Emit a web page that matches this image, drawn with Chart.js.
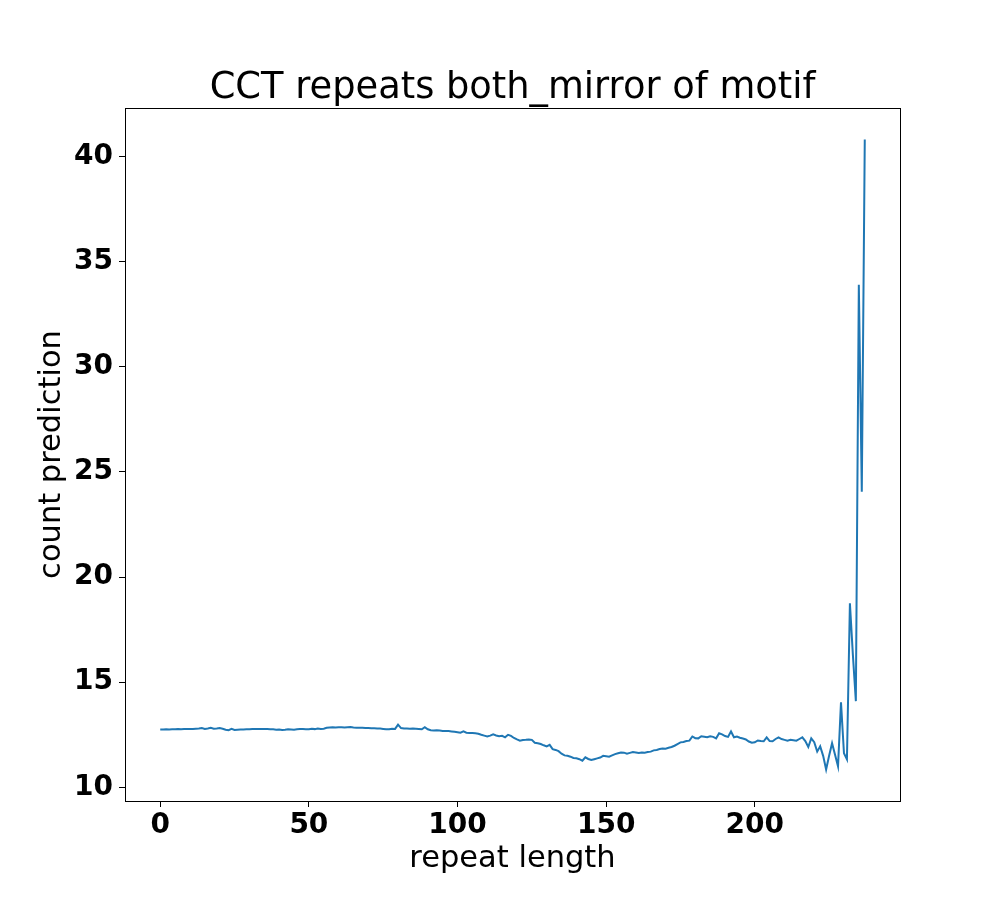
<!DOCTYPE html>
<html>
<head>
<meta charset="utf-8">
<script src="https://cdn.jsdelivr.net/npm/chart.js@4"></script>
<style>
  html, body { margin: 0; padding: 0; background: #fff; }
  #wrap { width: 1000px; height: 900px; }
</style>
</head>
<body>
<div id="wrap"><canvas id="c" width="1000" height="900"></canvas></div>
<script>
const titleText = "CCT repeats both_mirror of motif";
const xLabel = "repeat length";
const yLabel = "count prediction";
const xTicks = [0, 50, 100, 150, 200];
const yTicks = [10, 15, 20, 25, 30, 35, 40];
const countPrediction = [
  12.75, 12.75, 12.76, 12.75, 12.76, 12.76, 12.77, 12.76, 12.77, 12.77,
  12.77, 12.78, 12.79, 12.80, 12.82, 12.78, 12.80, 12.83, 12.79, 12.80,
  12.82, 12.79, 12.74, 12.72, 12.78, 12.73, 12.74, 12.75, 12.75, 12.76,
  12.76, 12.77, 12.77, 12.77, 12.78, 12.78, 12.77, 12.76, 12.76, 12.74,
  12.75, 12.73, 12.74, 12.76, 12.75, 12.74, 12.76, 12.77, 12.77, 12.76,
  12.76, 12.79, 12.77, 12.80, 12.78, 12.79, 12.83, 12.85, 12.86, 12.85,
  12.86, 12.86, 12.85, 12.86, 12.87, 12.85, 12.84, 12.83, 12.83, 12.82,
  12.82, 12.81, 12.81, 12.80, 12.80, 12.78, 12.76, 12.76, 12.79, 12.78,
  12.98, 12.82, 12.80, 12.80, 12.79, 12.80, 12.79, 12.78, 12.76, 12.86,
  12.76, 12.72, 12.71, 12.72, 12.70, 12.68, 12.68, 12.68, 12.66, 12.64,
  12.62, 12.60, 12.66, 12.60, 12.58, 12.58, 12.57, 12.55, 12.50, 12.46,
  12.42, 12.46, 12.52, 12.47, 12.43, 12.45, 12.38, 12.50, 12.45, 12.35,
  12.28, 12.22, 12.25, 12.26, 12.28, 12.26, 12.12, 12.10, 12.06, 12.00,
  11.95, 12.02, 11.82, 11.78, 11.72, 11.60, 11.52, 11.50, 11.46, 11.40,
  11.38, 11.34, 11.27, 11.43, 11.35, 11.30, 11.34, 11.38, 11.42, 11.50,
  11.48, 11.46, 11.52, 11.58, 11.62, 11.66, 11.65, 11.60, 11.64, 11.68,
  11.66, 11.64, 11.66, 11.65, 11.68, 11.70, 11.76, 11.78, 11.82, 11.85,
  11.84, 11.88, 11.92, 11.98, 12.06, 12.14, 12.16, 12.20, 12.22, 12.42,
  12.34, 12.33, 12.43, 12.41, 12.38, 12.43, 12.40, 12.33, 12.57, 12.52,
  12.44, 12.40, 12.66, 12.38, 12.42, 12.36, 12.32, 12.28, 12.18, 12.12,
  12.14, 12.23, 12.20, 12.19, 12.38, 12.20, 12.19, 12.30, 12.38, 12.30,
  12.26, 12.22, 12.26, 12.24, 12.22, 12.30, 12.38, 12.20, 11.92, 12.33,
  12.15, 11.70, 11.95, 11.50, 10.85, 11.50, 12.10, 11.55, 11.00, 14.05,
  11.62, 11.33, 18.75, 16.30, 14.10, 33.90, 24.05, 40.80
];
const repeatLength = countPrediction.map((_, i) => i);

// matplotlib-style 5% margins
const xMinD = Math.min(...repeatLength), xMaxD = Math.max(...repeatLength);
const yMinD = Math.min(...countPrediction), yMaxD = Math.max(...countPrediction);
const xm = (xMaxD - xMinD) * 0.05, ym = (yMaxD - yMinD) * 0.05;

const points = repeatLength.map((x, i) => ({ x: x, y: countPrediction[i] }));

const boxPlugin = {
  id: 'box',
  afterLayout(chart) {
    // centre the title over the plot area, like matplotlib
    if (chart.titleBlock) {
      chart.titleBlock.left = chart.chartArea.left;
      chart.titleBlock.right = chart.chartArea.right;
      chart.titleBlock.width = chart.chartArea.right - chart.chartArea.left;
    }
  },
  afterDraw(chart) {
    const a = chart.chartArea, ctx = chart.ctx;
    ctx.save();
    ctx.strokeStyle = '#000';
    ctx.lineWidth = 1;
    ctx.strokeRect(Math.round(a.left) + 0.5, Math.round(a.top) + 0.5,
                   Math.round(a.right - a.left), Math.round(a.bottom - a.top));
    ctx.restore();
  }
};

Chart.defaults.font.family = "'DejaVu Sans', sans-serif";

new Chart(document.getElementById('c'), {
  type: 'line',
  data: {
    datasets: [{
      data: points,
      borderColor: '#1f77b4',
      borderWidth: 2,
      pointRadius: 0,
      tension: 0,
      fill: false
    }]
  },
  options: {
    responsive: false,
    animation: false,
    devicePixelRatio: 1,
    layout: { padding: { top: 0, right: 100, bottom: 0, left: 0 } },
    plugins: {
      legend: { display: false },
      tooltip: { enabled: false },
      title: {
        display: true,
        text: titleText,
        color: '#000',
        font: { size: 36.8, weight: 'normal', lineHeight: 1.0 },
        padding: { top: 70, bottom: 1.2 }
      }
    },
    scales: {
      x: {
        type: 'linear',
        min: xMinD - xm,
        max: xMaxD + xm,
        afterBuildTicks(s) { s.ticks = xTicks.map(v => ({ value: v })); },
        afterFit(s) { s.height = 99; },
        grid: { display: true, drawOnChartArea: false, drawTicks: true, tickLength: 6, color: '#000' },
        border: { display: true, color: '#000', width: 1 },
        ticks: { color: '#000', font: { size: 28, weight: 'bold' }, padding: 2, maxRotation: 0 },
        title: {
          display: true, text: xLabel, color: '#000',
          font: { size: 30.5, weight: 'normal', lineHeight: 1.2 },
          padding: { top: 0, bottom: 23 }
        }
      },
      y: {
        type: 'linear',
        min: yMinD - ym,
        max: yMaxD + ym,
        afterBuildTicks(s) { s.ticks = yTicks.map(v => ({ value: v })); },
        afterFit(s) { s.width = 125; },
        grid: { display: true, drawOnChartArea: false, drawTicks: true, tickLength: 6, color: '#000' },
        border: { display: true, color: '#000', width: 1 },
        ticks: { color: '#000', font: { size: 28, weight: 'bold' }, padding: 6 },
        title: {
          display: true, text: yLabel, color: '#000',
          font: { size: 30.5, weight: 'normal', lineHeight: 1.2 },
          padding: { top: 34, bottom: 0 }
        }
      }
    }
  },
  plugins: [boxPlugin]
});
</script>
</body>
</html>
